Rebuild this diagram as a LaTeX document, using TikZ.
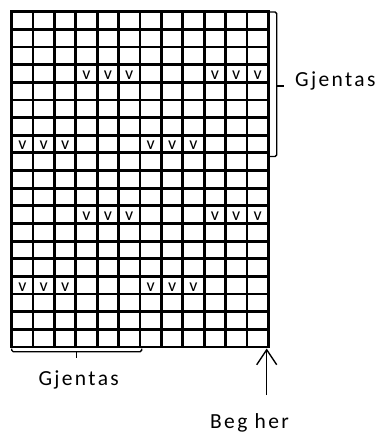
\documentclass[tikz,border=0pt]{standalone}
\usepackage{fontspec}
\setmainfont{Carlito}
\newfontfamily\labfont[LetterSpace=11]{Carlito}
\usetikzlibrary{arrows.meta}
\begin{document}
\begin{tikzpicture}[x=1pt,y=-1pt,
  gridline/.style={line width=2.8pt},
  vmark/.style={font=\fontsize{18}{18}\selectfont, anchor=base, inner sep=0pt},
  lab/.style={font=\labfont\fontsize{21.5}{21.5}\selectfont, anchor=base west, inner sep=0pt},
  brace/.style={line width=1.4pt, rounded corners=1.5pt}]
\useasboundingbox (0,0) rectangle (384,434);
\def\gx{11.7}\def\cw{21.383}\def\gy{11.7}\def\rh{17.647}
\foreach \i in {0,...,12} \draw[gridline] ({\gx+\i*\cw},\gy) -- ({\gx+\i*\cw},347);
\foreach \j in {0,...,19} \draw[gridline] (\gx,{\gy+\j*\rh}) -- (268.3,{\gy+\j*\rh});
\draw[gridline, line cap=rect] (\gx,\gy) rectangle (268.3,347);
\foreach \r in {4,12} \foreach \c in {4,5,6,10,11,12}
  \node[vmark] (v\r-\c) at ({\gx+(\c-0.5)*\cw},{\gy+\r*\rh-3}) {v};
\foreach \r in {8,16} \foreach \c in {1,2,3,7,8,9}
  \node[vmark] (v\r-\c) at ({\gx+(\c-0.5)*\cw},{\gy+\r*\rh-3}) {v};
% right brace
\draw[brace] (270,12) -- (276.7,12) -- (276.7,156.5) -- (270,156.5);
\coordinate (rmid) at (276.7,86);
\coordinate (rtip) at (284,86);
\draw[line width=1.4pt] (rmid) -- (rtip);
\node[lab] (rlab) at (295,86) {Gjentas};
% bottom brace
\draw[brace] (11.7,348.5) -- (11.7,351.7) -- (141.7,351.7) -- (141.7,348.5);
\coordinate (bmid) at (76.7,351.7);
\coordinate (btip) at (76.7,358);
\draw[line width=1.4pt] (bmid) -- (btip);
\node[lab] (blab) at (38.3,385.7) {Gjentas};
% arrow
\coordinate (start) at (266.7,395);
\coordinate (corner) at (266.7,348.5);
\draw[-{Straight Barb[length=15pt,width=20pt]}, line width=1.4pt] (start) -- (corner);
\node[lab] (beg) at (210,428.5) {Beg her};
\end{tikzpicture}
\end{document}
